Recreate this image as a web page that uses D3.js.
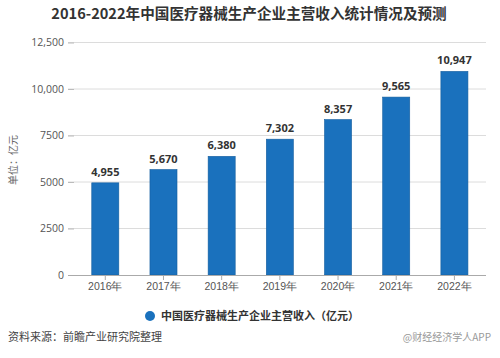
<!DOCTYPE html>
<html><head><meta charset="utf-8">
<script src="https://cdn.jsdelivr.net/npm/d3@7"></script>
<style>body{margin:0;background:#fff;}svg{display:block;font-family:"Noto Sans CJK SC","Noto Sans",sans-serif;}</style>
</head><body>
<script>
const categories = ["2016年","2017年","2018年","2019年","2020年","2021年","2022年"];
const values = [4955, 5670, 6380, 7302, 8357, 9565, 10947];
const valueLabels = ["4,955","5,670","6,380","7,302","8,357","9,565","10,947"];
const yTicks = [0, 2500, 5000, 7500, 10000, 12500];
const yTickLabels = ["0","2500","5000","7500","10,000","12,500"];
const title = "2016-2022年中国医疗器械生产企业主营收入统计情况及预测";
const seriesName = "中国医疗器械生产企业主营收入（亿元）";
const yTitle = "单位：亿元";
const source = "资料来源：前瞻产业研究院整理";
const credit = "@财经经济学人APP";

const W = 500, H = 358;
const svg = d3.select("body").append("svg").attr("width", W).attr("height", H);

const x = d3.scaleBand().domain(categories).range([76.2, 483.5]).paddingInner(0.535).paddingOuter(0.2675);
const y = d3.scaleLinear().domain([0, 12500]).range([275, 42.5]);

svg.append("text").attr("x", 249).attr("y", 19).attr("text-anchor", "middle")
  .attr("font-size", 14.6).attr("font-weight", "bold").attr("fill", "#333").text(title);

// gridlines
svg.append("g").selectAll("line").data(yTicks.slice(1)).join("line")
  .attr("x1", 68).attr("x2", 486).attr("y1", d => y(d)).attr("y2", d => y(d))
  .attr("stroke", "#dcdcdc").attr("stroke-width", 1);

// y axis ticks + labels
const yAxis = d3.axisLeft(y).tickValues(yTicks).tickFormat((d, i) => yTickLabels[i]).tickSize(6).tickPadding(4);
const gy = svg.append("g").attr("transform", "translate(74,0)").call(yAxis);
gy.select(".domain").remove();
gy.selectAll(".tick line").attr("stroke", "#bbb");
gy.selectAll("text").attr("font-size", 10.5).attr("fill", "#555").attr("font-family", "'Open Sans','Noto Sans',sans-serif");

// bars
svg.append("g").selectAll("rect").data(values).join("rect")
  .attr("x", (d, i) => x(categories[i])).attr("width", x.bandwidth())
  .attr("y", d => y(d)).attr("height", d => y(0) - y(d))
  .attr("fill", "#1a71bd").attr("stroke", "#145e9e").attr("stroke-width", 0.6);

// value labels
svg.append("g").selectAll("text").data(values).join("text")
  .attr("x", (d, i) => x(categories[i]) + x.bandwidth() / 2).attr("y", d => y(d) - 7)
  .attr("text-anchor", "middle").attr("font-size", 11).attr("font-weight", "bold").attr("fill", "#333")
  .attr("font-family", "'Open Sans','Noto Sans',sans-serif")
  .text((d, i) => valueLabels[i]);

// x axis
const xAxis = d3.axisBottom(x).tickSize(5).tickPadding(3);
const gx = svg.append("g").attr("transform", "translate(0,275)").call(xAxis);
gx.select(".domain").attr("d", "M68,0.5H486").attr("stroke", "#aaa");
gx.selectAll(".tick line").attr("stroke", "#aaa");
gx.selectAll("text").attr("font-size", 10.5).attr("fill", "#555");

// y title
svg.append("text").attr("transform", "translate(17,160) rotate(-90)").attr("text-anchor", "middle")
  .attr("font-size", 10).attr("fill", "#666").text(yTitle);

// legend
svg.append("circle").attr("cx", 150).attr("cy", 316).attr("r", 5).attr("fill", "#1a71bd");
svg.append("text").attr("x", 161).attr("y", 320).attr("font-size", 11).attr("font-weight", "bold").attr("fill", "#333").text(seriesName);

// source
svg.append("text").attr("x", 8).attr("y", 341).attr("font-size", 11).attr("fill", "#444").text(source);
svg.append("text").attr("x", 491).attr("y", 341).attr("text-anchor", "end").attr("font-size", 10).attr("fill", "#999").text(credit);
</script>
</body></html>
